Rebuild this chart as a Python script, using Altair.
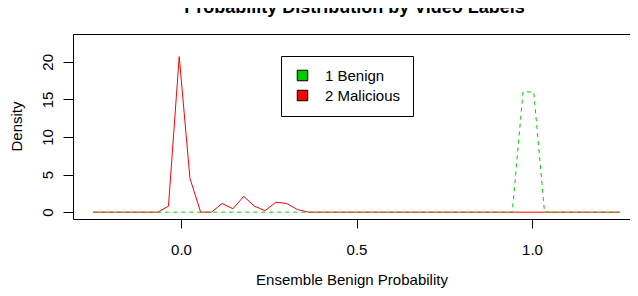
import altair as alt
import pandas as pd

# Density evaluation grid (50 points from -0.25 to 1.25)
x_grid = [-0.25, -0.2194, -0.1888, -0.1582, -0.1276, -0.0969, -0.0663, -0.0357,
          -0.0051, 0.0255, 0.0561, 0.0867, 0.1173, 0.1480, 0.1786, 0.2092,
          0.2398, 0.2704, 0.3010, 0.3316, 0.3622, 0.3929, 0.4235, 0.4541,
          0.4847, 0.5153, 0.5459, 0.5765, 0.6071, 0.6378, 0.6684, 0.6990,
          0.7296, 0.7602, 0.7908, 0.8214, 0.8520, 0.8827, 0.9133, 0.9439,
          0.9745, 1.0051, 1.0357, 1.0663, 1.0969, 1.1276, 1.1582, 1.1888,
          1.2194, 1.25]

malicious = [0, 0, 0, 0, 0, 0, 0, 0.8,
             20.7, 4.5, 0, 0, 1.15, 0.45, 2.1, 0.8,
             0.2, 1.33, 1.15, 0.35, 0, 0, 0, 0,
             0, 0, 0, 0, 0, 0, 0, 0,
             0, 0, 0, 0, 0, 0, 0, 0,
             0, 0, 0, 0, 0, 0, 0, 0,
             0, 0]

benign = [0, 0, 0, 0, 0, 0, 0, 0,
          0, 0, 0, 0, 0, 0, 0, 0,
          0, 0, 0, 0, 0, 0, 0, 0,
          0, 0, 0, 0, 0, 0, 0, 0,
          0, 0, 0, 0, 0, 0, 0, 0,
          16.05, 15.95, 0, 0, 0, 0, 0, 0,
          0, 0]

labels = ["1 Benign", "2 Malicious"]
colors = ["#00CD00", "#FF0000"]
x_ticks = [0.0, 0.5, 1.0]
y_ticks = [0, 5, 10, 15, 20]

FONT = "Liberation Sans"

df_m = pd.DataFrame({"x": x_grid, "y": malicious})
df_b = pd.DataFrame({"x": x_grid, "y": benign})
df_leg = pd.DataFrame({"label": labels, "x": [0.0, 0.0], "y": [0.0, 0.0]})

xs = alt.Scale(domain=[-0.3077, 1.2792], nice=False, zero=False)
ys = alt.Scale(domain=[-0.91, 23.7], nice=False, zero=False)

xaxis = alt.Axis(values=x_ticks, format=".1f", title="Ensemble Benign Probability",
                 grid=False, domain=False, tickSize=9, tickColor="black", tickWidth=1,
                 labelPadding=26, labelBaseline="alphabetic", labelFontSize=15,
                 labelFont=FONT, labelColor="black", labelFlush=False, labelOverlap=False,
                 titleFont=FONT, titleFontSize=15, titleFontWeight="normal",
                 titleColor="black", titleY=65, titleBaseline="alphabetic")
yaxis = alt.Axis(values=y_ticks, format="d", title="Density",
                 grid=False, domain=False, tickSize=10, tickColor="black", tickWidth=1,
                 labelPadding=11, labelAngle=270, labelAlign="center",
                 labelBaseline="alphabetic", labelFontSize=15, labelFont=FONT,
                 labelColor="black", labelFlush=False, labelOverlap=False,
                 titleFont=FONT, titleFontSize=15, titleFontWeight="normal",
                 titleColor="black", titleAngle=270, titleX=-52, titleY=92,
                 titleAlign="center", titleBaseline="alphabetic")

X = alt.X("x:Q", scale=xs, axis=xaxis)
Y = alt.Y("y:Q", scale=ys, axis=yaxis)

red = alt.Chart(df_m).mark_line(color="#FF0000", strokeWidth=1).encode(x=X, y=Y)
green = alt.Chart(df_b).mark_line(color="#00CD00", strokeWidth=1,
                                  strokeDash=[4, 4]).encode(x=X, y=Y)
leg = alt.Chart(df_leg).mark_square(size=0, filled=True, opacity=1).encode(
    x=X, y=Y,
    fill=alt.Fill("label:N", scale=alt.Scale(domain=labels, range=colors),
                  legend=alt.Legend(title=None, orient="none", legendX=208, legendY=22,
                                    padding=12, fillColor="white", strokeColor="black",
                                    symbolType="square", symbolSize=110,
                                    symbolStrokeColor="black", symbolStrokeWidth=1,
                                    symbolOffset=2, labelOffset=15, rowPadding=4,
                                    labelFontSize=15, labelFont=FONT, labelColor="black",
                                    cornerRadius=0)))

chart = alt.layer(red, green, leg).properties(
    width=557, height=185,
    title=alt.Title("Probability Distribution by Video Labels", fontSize=18,
                    fontWeight="bold", font=FONT, anchor="middle", frame="group",
                    offset=3, dx=3, baseline="alphabetic", color="black"),
    autosize=alt.AutoSizeParams(type="none"),
    padding={"left": 65, "top": 26, "right": 0, "bottom": 69},
    background="white",
).configure_view(stroke="black", strokeWidth=1)

chart.save("out.html", embed_options={"renderer": "svg", "actions": False})
